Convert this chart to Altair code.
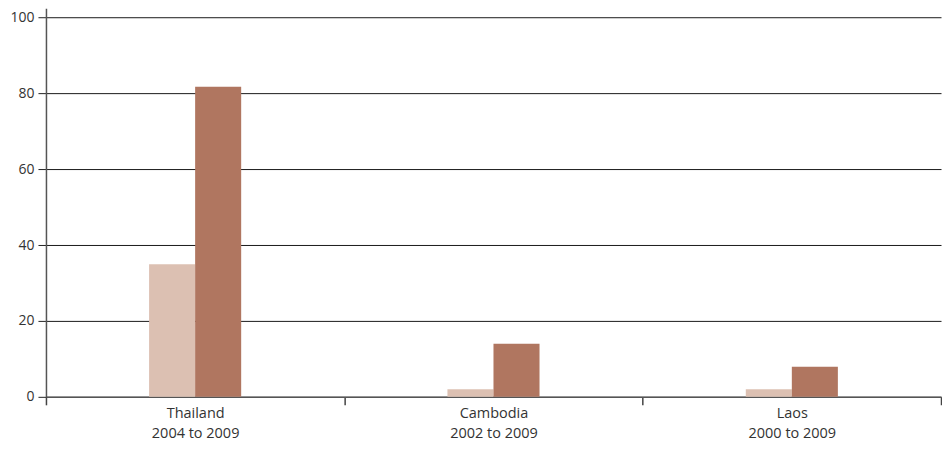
import altair as alt
import pandas as pd

categories = ["Thailand|2004 to 2009", "Cambodia|2002 to 2009", "Laos|2000 to 2009"]
series = ["Start year", "2009"]
start_values = [35.0, 2.0, 2.0]
end_values = [81.8, 14.0, 7.9]
y_ticks = [0, 20, 40, 60, 80, 100]

rows = []
for c, a, b in zip(categories, start_values, end_values):
    rows.append({"category": c, "series": series[0], "value": a})
    rows.append({"category": c, "series": series[1], "value": b})
df = pd.DataFrame(rows)

# empty slots either side of the two bars keep them narrow and centred
offset_domain = ["_a", "_b"] + series + ["_c", "_d"]

font = "Open Sans"

chart = alt.Chart(df).mark_bar().encode(
    x=alt.X("category:N", sort=categories, title=None,
            scale=alt.Scale(paddingInner=0, paddingOuter=0),
            axis=alt.Axis(labelExpr="split(datum.label, '|')", labelAngle=0,
                          labelLineHeight=20, labelFontSize=14.5, labelColor="#333",
                          labelFont=font, labelPadding=2, tickBand="extent",
                          tickSize=8, tickColor="#444", tickWidth=1.5,
                          domainColor="#555", domainWidth=1.5, grid=False)),
    xOffset=alt.XOffset("series:N",
                        scale=alt.Scale(domain=offset_domain, paddingInner=0, paddingOuter=0.24)),
    y=alt.Y("value:Q", title=None,
            scale=alt.Scale(domain=[0, 102.5], nice=False),
            axis=alt.Axis(values=y_ticks, labelFontSize=14, labelColor="#333",
                          labelFont=font, tickSize=8, tickColor="#222",
                          labelPadding=4, minExtent=38,
                          domainColor="#555", domainWidth=1.5,
                          grid=True, gridColor="#1a1a1a", gridWidth=1)),
    color=alt.Color("series:N",
                    scale=alt.Scale(domain=series, range=["#dcc0b2", "#b07660"]),
                    legend=None),
).properties(
    width=896, height=389,
    padding={"left": 0, "top": 0, "right": 0, "bottom": 0},
).configure_view(stroke=None)

chart.save("out.html", embed_options={"renderer": "svg", "actions": False})
